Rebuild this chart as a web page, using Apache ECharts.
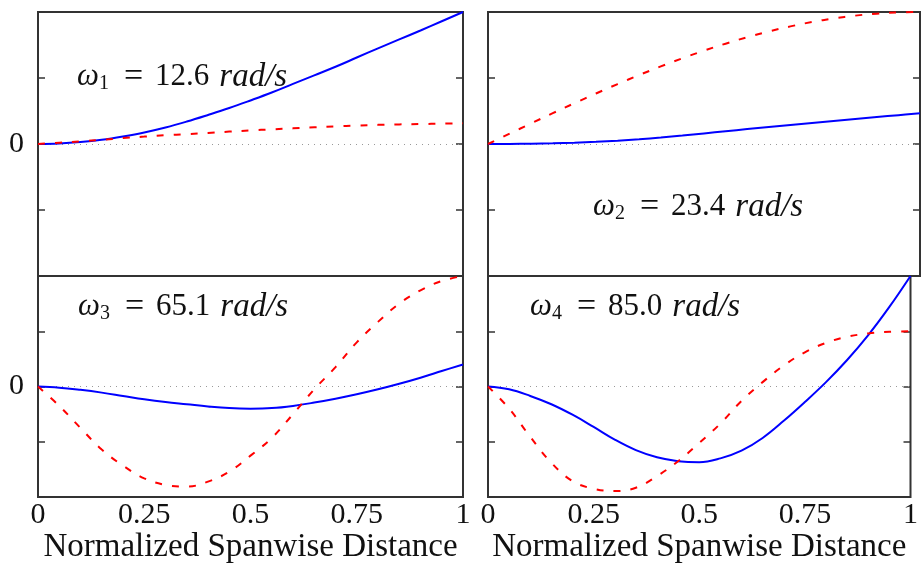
<!DOCTYPE html>
<html>
<head>
<meta charset="utf-8">
<script src="https://cdn.jsdelivr.net/npm/echarts@6/dist/echarts.min.js"></script>
<style>html,body{margin:0;padding:0;background:#fff;}#c{width:921px;height:565px;}</style>
</head>
<body>
<div id="c"></div>
<script>
// Normalized spanwise distance samples
const xs = [0, 0.05, 0.1, 0.15, 0.2, 0.25, 0.3, 0.35, 0.4, 0.45, 0.5,
            0.55, 0.6, 0.65, 0.7, 0.75, 0.8, 0.85, 0.9, 0.95, 1.0];
// Mode 1 (12.6 rad/s)
const mode1Blue = [0, 0.008, 0.03, 0.065, 0.115, 0.175, 0.25, 0.34, 0.44, 0.545, 0.66,
                   0.78, 0.91, 1.04, 1.17, 1.31, 1.45, 1.585, 1.72, 1.86, 2.0];
const mode1Red  = [0, 0.02, 0.04, 0.064, 0.09, 0.112, 0.133, 0.15, 0.167, 0.188, 0.206,
                   0.222, 0.237, 0.253, 0.268, 0.28, 0.29, 0.297, 0.302, 0.308, 0.313];
// Mode 2 (23.4 rad/s)
const mode2Blue = [0, 0.001, 0.005, 0.011, 0.02, 0.033, 0.05, 0.072, 0.098, 0.128, 0.16,
                   0.193, 0.226, 0.258, 0.289, 0.319, 0.349, 0.379, 0.408, 0.437, 0.465];
const mode2Red  = [0, 0.157, 0.313, 0.467, 0.618, 0.765, 0.908, 1.045, 1.176, 1.299, 1.414,
                   1.52, 1.618, 1.705, 1.782, 1.848, 1.902, 1.945, 1.975, 1.994, 2.0];
// Mode 3 (65.1 rad/s)
const mode3Blue = [0, -0.02, -0.06, -0.11, -0.17, -0.23, -0.28, -0.32, -0.36, -0.39, -0.40,
                   -0.39, -0.35, -0.29, -0.22, -0.14, -0.05, 0.05, 0.16, 0.28, 0.40];
const mode3Red  = [0, -0.35, -0.75, -1.14, -1.43, -1.66, -1.78, -1.81, -1.72, -1.54, -1.25,
                   -0.93, -0.50, -0.05, 0.35, 0.80, 1.17, 1.50, 1.74, 1.91, 2.0];
// Mode 4 (85.0 rad/s)
const mode4Blue = [0, -0.05, -0.17, -0.32, -0.51, -0.73, -0.96, -1.15, -1.28, -1.35, -1.37,
                   -1.30, -1.16, -0.93, -0.62, -0.28, 0.08, 0.48, 0.93, 1.44, 2.0];
const mode4Red  = [0, -0.40, -0.91, -1.38, -1.71, -1.85, -1.89, -1.83, -1.62, -1.35, -1.02,
                   -0.67, -0.26, 0.08, 0.38, 0.62, 0.79, 0.90, 0.96, 0.99, 1.0];

const xTicks = [0, 0.25, 0.5, 0.75, 1];
const freqLabels = ['12.6', '23.4', '65.1', '85.0'];
const xName = 'Normalized Spanwise Distance';

const FONT = '"Liberation Serif", "DejaVu Serif", serif';
const panels = [
  {blue: mode1Blue, red: mode1Red},
  {blue: mode2Blue, red: mode2Red},
  {blue: mode3Blue, red: mode3Red},
  {blue: mode4Blue, red: mode4Red}
];
const gridPos = [
  {left: 38, top: 12, width: 425, height: 264},
  {left: 488, top: 12, width: 432, height: 264},
  {left: 38, top: 276, width: 425, height: 222},
  {left: 488, top: 276, width: 432, height: 222}
];
const labelPos = [[77, 60], [593, 190], [78, 290], [530, 290]];

const pairs = (arr) => xs.map((x, i) => [x, arr[i]]);

const grid = [], xAxis = [], yAxis = [], series = [], title = [];
gridPos.forEach((g, i) => {
  grid.push(Object.assign({show: true, borderColor: '#333', borderWidth: 2, backgroundColor: 'transparent', containLabel: false}, g));
  const bottom = i >= 2;
  xAxis.push({
    type: 'value', gridIndex: i, min: 0, max: 1, interval: 0.25,
    axisLine: {show: false}, axisTick: {show: false}, splitLine: {show: false},
    axisLabel: {show: bottom, fontFamily: FONT, fontSize: 30, color: '#111', margin: 3,
      formatter: (v) => xTicks.indexOf(v) >= 0 ? String(v) : ''},
    name: bottom ? xName : '', nameLocation: 'middle', nameGap: 32,
    nameTextStyle: {fontFamily: FONT, fontSize: 33, color: '#111'}
  });
  const left = (i % 2 === 0);
  [ 'left', 'right' ].forEach((pos) => {
    yAxis.push({
      type: 'value', gridIndex: i, min: -2, max: 2, interval: 1, position: pos,
      axisLine: {show: false}, splitLine: {show: false},
      axisTick: {show: true, inside: true, length: 7, lineStyle: {color: '#333', width: 1.5}},
      axisLabel: {show: pos === 'left' && left, margin: 14, fontFamily: FONT, fontSize: 30, color: '#111',
        formatter: (v) => v === 0 ? '0' : ''}
    });
  });
  const yi = i * 2;
  series.push({
    type: 'line', xAxisIndex: i, yAxisIndex: yi, data: pairs(panels[i].blue),
    smooth: 0.4, showSymbol: false, symbol: 'none', z: 3,
    lineStyle: {color: '#0000ff', width: 2},
    markLine: {silent: true, symbol: 'none', label: {show: false}, z: 1,
      lineStyle: {color: '#999', width: 1, type: [1, 5]}, data: [{yAxis: 0}]}
  });
  series.push({
    type: 'line', xAxisIndex: i, yAxisIndex: yi, data: pairs(panels[i].red),
    smooth: 0.4, showSymbol: false, symbol: 'none', z: 4,
    lineStyle: {color: '#ff0000', width: 2, type: [7, 10]}
  });
  const base = {fontFamily: FONT, fontWeight: 'normal', color: '#111', lineHeight: 34, verticalAlign: 'middle'};
  title.push({
    left: labelPos[i][0], top: labelPos[i][1], padding: 0,
    text: '{w|ω}{s|' + (i + 1) + '}{e|=}{n|' + freqLabels[i] + '}{it|rad/s}',
    textStyle: {
      fontWeight: 'normal',
      rich: {
        w: Object.assign({}, base, {fontStyle: 'italic', fontSize: 31}),
        s: {fontFamily: FONT, fontWeight: 'normal', fontSize: 20, lineHeight: 20, color: '#111', verticalAlign: 'bottom'},
        e: Object.assign({}, base, {fontSize: 34, padding: [0, 12, 0, 15]}),
        n: Object.assign({}, base, {fontSize: 31, padding: [0, 10, 0, 0]}),
        it: Object.assign({}, base, {fontStyle: 'italic', fontSize: 33})
      }
    }
  });
});

const chart = echarts.init(document.getElementById('c'), null, {renderer: 'canvas'});
chart.setOption({animation: false, backgroundColor: '#fff', title, grid, xAxis, yAxis, series});
</script>
</body>
</html>
